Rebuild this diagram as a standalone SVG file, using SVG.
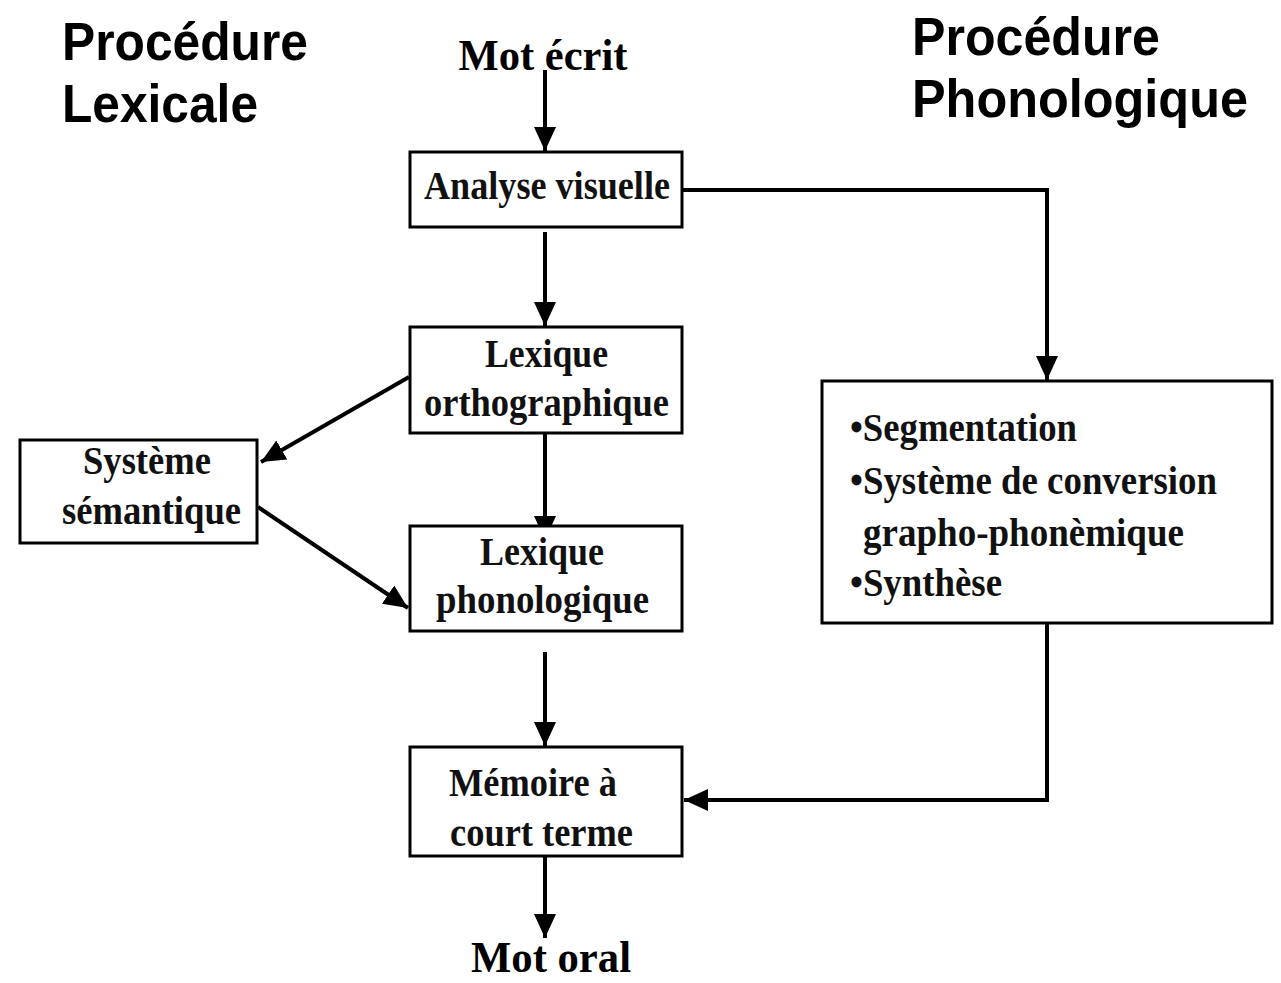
<svg xmlns="http://www.w3.org/2000/svg" width="1281" height="983" viewBox="0 0 1281 983">
<defs>
<marker id="ah" markerWidth="24" markerHeight="24" refX="24" refY="12" orient="auto" markerUnits="userSpaceOnUse" viewBox="0 0 24 24">
<path d="M0,1 L24,12 L0,23 Z" fill="#000"/>
</marker>
</defs>
<style>
.box{fill:#fff;stroke:#000;stroke-width:3}
.t{font-family:"Liberation Serif","Times New Roman",serif;font-weight:bold;font-size:40px;fill:#111}
.h{font-family:"Liberation Sans",Arial,sans-serif;font-weight:bold;font-size:54px;fill:#000}
.big{font-family:"Liberation Serif","Times New Roman",serif;font-weight:bold;font-size:44px;fill:#000}
.c{fill:none;stroke:#000;stroke-width:4}
</style>
<rect width="1281" height="983" fill="#fff"/>
<g id="titles">
<text class="h" x="62" y="60" textLength="246" lengthAdjust="spacingAndGlyphs">Procédure</text>
<text class="h" x="62" y="122" textLength="196" lengthAdjust="spacingAndGlyphs">Lexicale</text>
<text class="h" x="912" y="55" textLength="248" lengthAdjust="spacingAndGlyphs">Procédure</text>
<text class="h" x="912" y="117" textLength="336" lengthAdjust="spacingAndGlyphs">Phonologique</text>
</g>
<g id="connectors">
<line class="c" x1="545" y1="70" x2="545" y2="151" marker-end="url(#ah)"/>
<line class="c" x1="545" y1="232" x2="545" y2="326" marker-end="url(#ah)"/>
<line class="c" x1="545" y1="433" x2="545" y2="540" marker-end="url(#ah)"/>
<line class="c" x1="545" y1="652" x2="545" y2="746" marker-end="url(#ah)"/>
<line class="c" x1="545" y1="857" x2="545" y2="938" marker-end="url(#ah)"/>
<polyline class="c" points="682,190 1047,190 1047,380" marker-end="url(#ah)"/>
<polyline class="c" points="1047,623 1047,800 684,800" marker-end="url(#ah)"/>
<line class="c" x1="409" y1="377" x2="261" y2="462" marker-end="url(#ah)"/>
<line class="c" x1="258" y1="507" x2="408" y2="608" marker-end="url(#ah)"/>
</g>
<g id="mot-ecrit">
<text class="big" x="543" y="70" text-anchor="middle" textLength="169" lengthAdjust="spacingAndGlyphs">Mot écrit</text>
</g>
<g id="analyse-visuelle">
<rect class="box" x="410" y="152" width="272" height="75"/>
<text class="t" x="424" y="199" textLength="246" lengthAdjust="spacingAndGlyphs">Analyse visuelle</text>
</g>
<g id="lexique-orthographique">
<rect class="box" x="410" y="327" width="272" height="106"/>
<text class="t" x="485" y="367" textLength="123" lengthAdjust="spacingAndGlyphs">Lexique</text>
<text class="t" x="424" y="416" textLength="245" lengthAdjust="spacingAndGlyphs">orthographique</text>
</g>
<g id="systeme-semantique">
<rect class="box" x="20" y="440" width="237" height="103"/>
<text class="t" x="83" y="474" textLength="128" lengthAdjust="spacingAndGlyphs">Système</text>
<text class="t" x="62" y="524" textLength="179" lengthAdjust="spacingAndGlyphs">sémantique</text>
</g>
<g id="lexique-phonologique">
<rect class="box" x="410" y="526" width="272" height="105"/>
<text class="t" x="480" y="565" textLength="124" lengthAdjust="spacingAndGlyphs">Lexique</text>
<text class="t" x="436" y="613" textLength="213" lengthAdjust="spacingAndGlyphs">phonologique</text>
</g>
<g id="memoire-court-terme">
<rect class="box" x="410" y="747" width="272" height="109"/>
<text class="t" x="449" y="796" textLength="168" lengthAdjust="spacingAndGlyphs">Mémoire à</text>
<text class="t" x="450" y="846" textLength="183" lengthAdjust="spacingAndGlyphs">court terme</text>
</g>
<g id="procedure-phonologique">
<rect class="box" x="822" y="381" width="450" height="242"/>
<text class="t" x="850" y="441" textLength="227" lengthAdjust="spacingAndGlyphs">•Segmentation</text>
<text class="t" x="850" y="494" textLength="367" lengthAdjust="spacingAndGlyphs">•Système de conversion</text>
<text class="t" x="863" y="546" textLength="321" lengthAdjust="spacingAndGlyphs">grapho-phonèmique</text>
<text class="t" x="850" y="596" textLength="152" lengthAdjust="spacingAndGlyphs">•Synthèse</text>
</g>
<g id="mot-oral">
<text class="big" x="471" y="972" textLength="160" lengthAdjust="spacingAndGlyphs">Mot oral</text>
</g>
</svg>
